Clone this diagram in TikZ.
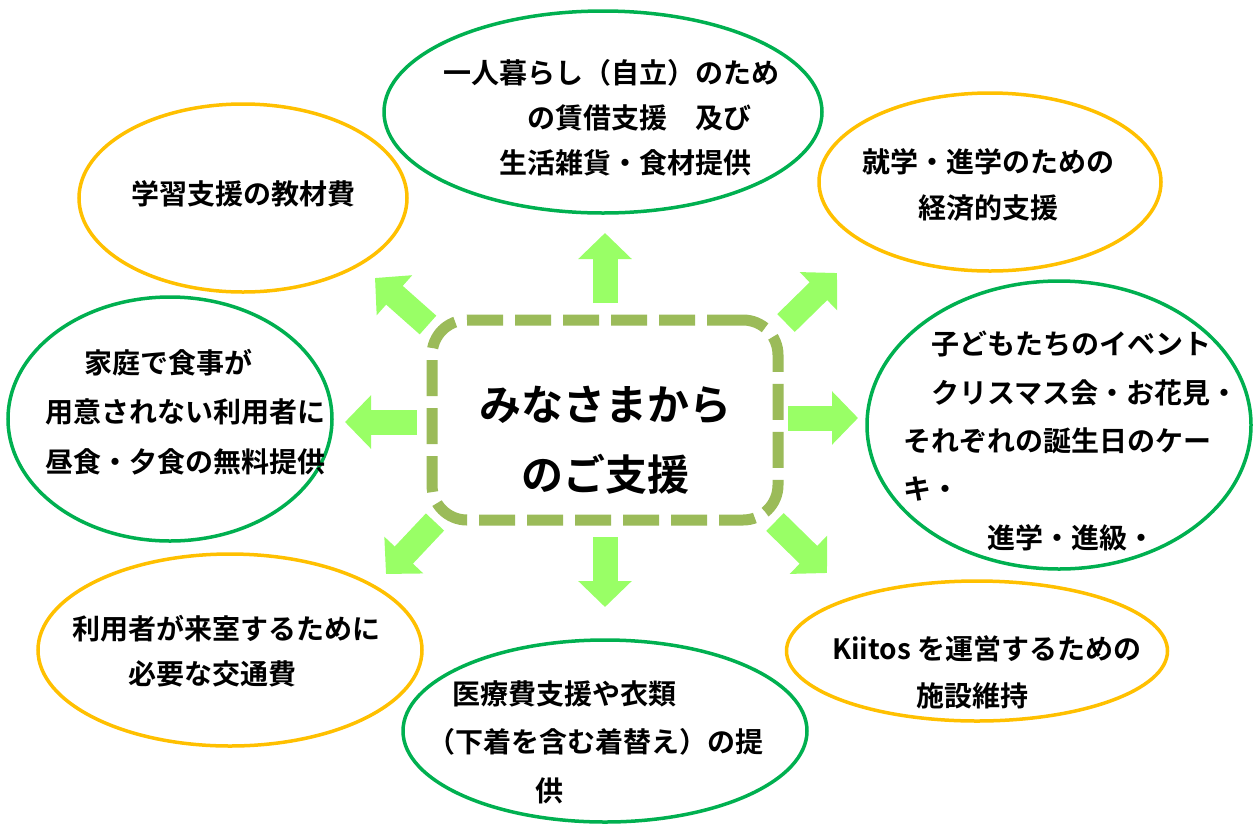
\documentclass[tikz,border=0pt]{standalone}
\usepackage{fontspec}
\setmainfont{Noto Sans CJK JP}[BoldFont={Noto Sans CJK JP Bold}]
\usepackage{tikz}
\usetikzlibrary{shapes.geometric}
\usetikzlibrary{arrows.meta}

\definecolor{bubblegreen}{HTML}{00B050}
\definecolor{bubbleorange}{HTML}{FFC000}
\definecolor{burstgreen}{HTML}{99FF66}
\definecolor{hubolive}{HTML}{9BBB59}

\tikzset{
  bubble/.style={ellipse, draw=#1, line width=3.5pt, fill=white, inner sep=0pt},
  bubbletext/.style={anchor=north west, inner sep=0pt, align=left,
                     font=\bfseries\fontsize{28}{#1}\selectfont},
  burst/.style={burstgreen, line width=25pt, -{Triangle[width=52pt,length=26pt]}},
  hub/.style={draw=hubolive, line width=11pt, rounded corners=35pt,
              dash pattern=on 36pt off 12pt,
              minimum width=346pt, minimum height=200pt},
}

\begin{document}
\begin{tikzpicture}[x=1pt,y=-1pt]
 \useasboundingbox[fill=white] (0,0) rectangle (1253,823);
 % bubbles
 \node[bubble=bubblegreen,  minimum width=438, minimum height=202] (rent)    at (603,112) {};
 \node[bubble=bubbleorange, minimum width=328, minimum height=188] (study)   at (243,198) {};
 \node[bubble=bubbleorange, minimum width=342, minimum height=178] (school)  at (990,182) {};
 \node[bubble=bubblegreen,  minimum width=324, minimum height=244] (meal)    at (170,419) {};
 \node[bubble=bubblegreen,  minimum width=384, minimum height=288] (event)   at (1059,425) {};
 \node[bubble=bubbleorange, minimum width=384, minimum height=192] (fare)    at (230,650) {};
 \node[bubble=bubblegreen,  minimum width=404, minimum height=182] (clothes) at (605,731) {};
 \node[bubble=bubbleorange, minimum width=381, minimum height=140] (kiitos)  at (977,651) {};

 \node[bubbletext=45] (renttext) at (443,59)
   {一人暮らし（自立）のため\\ \hspace*{3em}の賃借支援　及び\\ \hspace*{2em}生活雑貨・食材提供};
 \node[bubbletext=45] (studytext) at (131,180) {学習支援の教材費};
 \node[bubbletext=46] (schooltext) at (862,148)
   {就学・進学のための\\ \hspace*{2em}経済的支援};
 \node[bubbletext=49.5] (mealtext) at (45,349)
   {\hspace*{1.4em}家庭で食事が\\用意されない利用者に\\昼食・夕食の無料提供};
 \node[bubbletext=48.3] (eventtext) at (903,331)
   {\hspace*{1em}子どもたちのイベント\\ \hspace*{1em}クリスマス会・お花見・\\それぞれの誕生日のケー\\キ・\\ \hspace*{3em}進学・進級・};
 \node[bubbletext=45] (faretext) at (72,615)
   {利用者が来室するために\\ \hspace*{2em}必要な交通費};
 \node[bubbletext=48.5] (clothestext) at (427,680)
   {\hspace*{0.9em}医療費支援や衣類\\（下着を含む着替え）の提\\ \hspace*{3.85em}供};
 \node[bubbletext=47] (kiitostext) at (832,635)
   {Kiitos を運営するための\\ \hspace*{3em}施設維持};

 % arrows out of the hub
 \coordinate (n-tail)  at (605,303); \coordinate (n-tip)  at (605,233);
 \coordinate (s-tail)  at (605,537); \coordinate (s-tip)  at (605,607);
 \coordinate (w-tail)  at (417,422); \coordinate (w-tip)  at (345,422);
 \coordinate (e-tail)  at (788,418); \coordinate (e-tip)  at (858,418);
 \coordinate (nw-tail) at (428,325); \coordinate (nw-tip) at (375,278);
 \coordinate (ne-tail) at (786,323); \coordinate (ne-tip) at (837,273);
 \coordinate (sw-tail) at (435,522); \coordinate (sw-tip) at (386,574);
 \coordinate (se-tail) at (775,522); \coordinate (se-tip) at (827,573);
 \foreach \dir in {n,s,w,e,nw,ne,sw,se}
   \draw[burst] (\dir-tail) -- (\dir-tip);

 % hub
 \node[hub] (hub) at (605,420) {};
 \node[font=\bfseries\fontsize{42}{70}\selectfont, align=center] (hubtext) at (605,440)
   {みなさまから\\のご支援};
\end{tikzpicture}
\end{document}
